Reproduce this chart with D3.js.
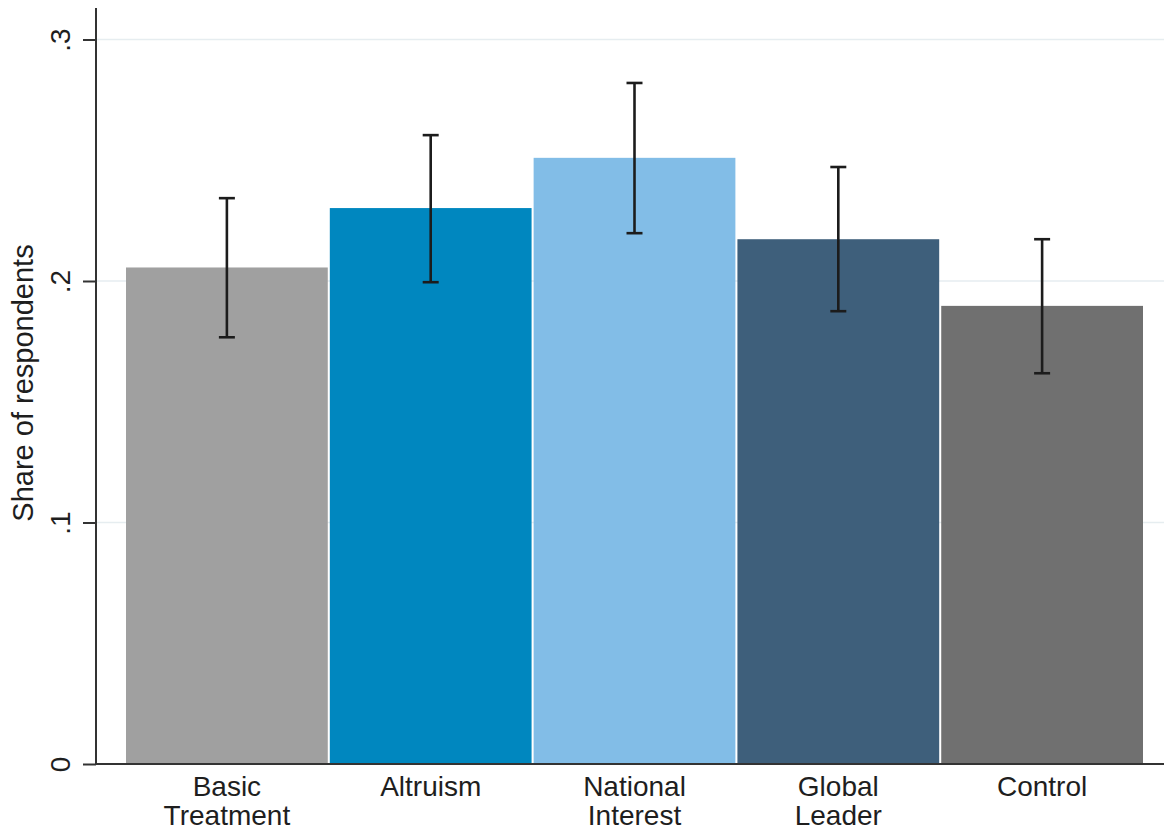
<!DOCTYPE html>
<html>
<head>
<meta charset="utf-8">
<script src="https://cdn.jsdelivr.net/npm/d3@7"></script>
<style>
  body { margin: 0; background: #fff; }
  text { font-family: "Liberation Sans", Arial, Helvetica, sans-serif; fill: #1e1e1e; }
</style>
</head>
<body>
<div id="chart"></div>
<script>
// data
var categories = ["Basic Treatment", "Altruism", "National Interest", "Global Leader", "Control"];
var labelLines = [["Basic", "Treatment"], ["Altruism"], ["National", "Interest"], ["Global", "Leader"], ["Control"]];
var shares = [0.2056, 0.2302, 0.2510, 0.2173, 0.1897];
var ciLow  = [0.1767, 0.1995, 0.2198, 0.1875, 0.1618];
var ciHigh = [0.2343, 0.2604, 0.2820, 0.2472, 0.2173];
var colors = ["#a0a0a0", "#0087bf", "#82bde7", "#3e5f7b", "#707070"];
var yTicks = [0, 0.1, 0.2, 0.3];
var yTickLabels = ["0", ".1", ".2", ".3"];

var W = 1164, H = 832;
var axisX = 96, plotTop = 8, plotBottom = 764, plotRight = 1164;

var svg = d3.select("#chart")
  .append("svg")
    .attr("width", W)
    .attr("height", H);

var x = d3.scaleBand()
    .domain(categories)
    .range([126, 1143])
    .paddingInner(0.01)
    .paddingOuter(0);

var y = d3.scaleLinear()
    .domain([0, 0.3])
    .range([plotBottom, 39.5]);

// gridlines
svg.append("g")
  .selectAll("line")
  .data(yTicks.slice(1))
  .enter()
  .append("line")
    .attr("x1", axisX)
    .attr("x2", plotRight)
    .attr("y1", function(d) { return y(d); })
    .attr("y2", function(d) { return y(d); })
    .style("stroke", "#e6edf0")
    .style("stroke-width", 1.5);

// bars
svg.append("g")
  .selectAll("rect")
  .data(categories)
  .enter()
  .append("rect")
    .attr("x", function(d) { return x(d); })
    .attr("y", function(d, i) { return y(shares[i]); })
    .attr("width", x.bandwidth())
    .attr("height", function(d, i) { return y(0) - y(shares[i]); })
    .style("fill", function(d, i) { return colors[i]; });

// error bars
var capW = 16;
var eb = svg.append("g")
  .selectAll("g")
  .data(categories)
  .enter()
  .append("g")
    .style("stroke", "#1c1c1c")
    .style("stroke-width", 2.6);
eb.append("line")
    .attr("x1", function(d) { return x(d) + x.bandwidth() / 2; })
    .attr("x2", function(d) { return x(d) + x.bandwidth() / 2; })
    .attr("y1", function(d, i) { return y(ciLow[i]); })
    .attr("y2", function(d, i) { return y(ciHigh[i]); });
eb.selectAll(".cap")
  .data(function(d, i) { return [[d, ciLow[i]], [d, ciHigh[i]]]; })
  .enter()
  .append("line")
    .attr("class", "cap")
    .attr("x1", function(p) { return x(p[0]) + x.bandwidth() / 2 - capW / 2; })
    .attr("x2", function(p) { return x(p[0]) + x.bandwidth() / 2 + capW / 2; })
    .attr("y1", function(p) { return y(p[1]); })
    .attr("y2", function(p) { return y(p[1]); });

// y axis
var yAxis = svg.append("g")
    .attr("transform", "translate(" + axisX + ",0)")
    .call(d3.axisLeft(y).tickValues(yTicks).tickSize(13).tickPadding(0)
      .tickFormat(function(d, i) { return yTickLabels[i]; }));
yAxis.select(".domain")
    .attr("d", "M0," + plotTop + "V" + plotBottom)
    .style("stroke", "#333")
    .style("stroke-width", 2);
yAxis.selectAll(".tick line").style("stroke", "#333").style("stroke-width", 2);
yAxis.selectAll(".tick text")
    .attr("x", null).attr("dy", null)
    .attr("transform", "translate(-26,0) rotate(-90)")
    .attr("text-anchor", "middle")
    .style("font-size", "28px")
    .style("font-family", "'Liberation Sans', Arial, sans-serif")
    .style("fill", "#1e1e1e");

// x axis
var xAxis = svg.append("g")
    .attr("transform", "translate(0," + plotBottom + ")")
    .call(d3.axisBottom(x).tickSize(0).tickFormat(""));
xAxis.select(".domain")
    .attr("d", "M" + axisX + ",0H" + plotRight)
    .style("stroke", "#333")
    .style("stroke-width", 2);

var labels = svg.append("g")
  .selectAll("text")
  .data(categories)
  .enter()
  .append("text")
    .attr("text-anchor", "middle")
    .style("font-size", "28px");
labels.selectAll("tspan")
  .data(function(d, i) { return labelLines[i].map(function(t) { return [d, t]; }); })
  .enter()
  .append("tspan")
    .attr("x", function(p) { return x(p[0]) + x.bandwidth() / 2; })
    .attr("y", function(p, j) { return 796 + j * 29; })
    .text(function(p) { return p[1]; });

// y title
svg.append("text")
    .attr("transform", "translate(33," + ((plotTop + plotBottom) / 2 - 3) + ") rotate(-90)")
    .attr("text-anchor", "middle")
    .style("font-size", "29px")
    .text("Share of respondents");
</script>
</body>
</html>
